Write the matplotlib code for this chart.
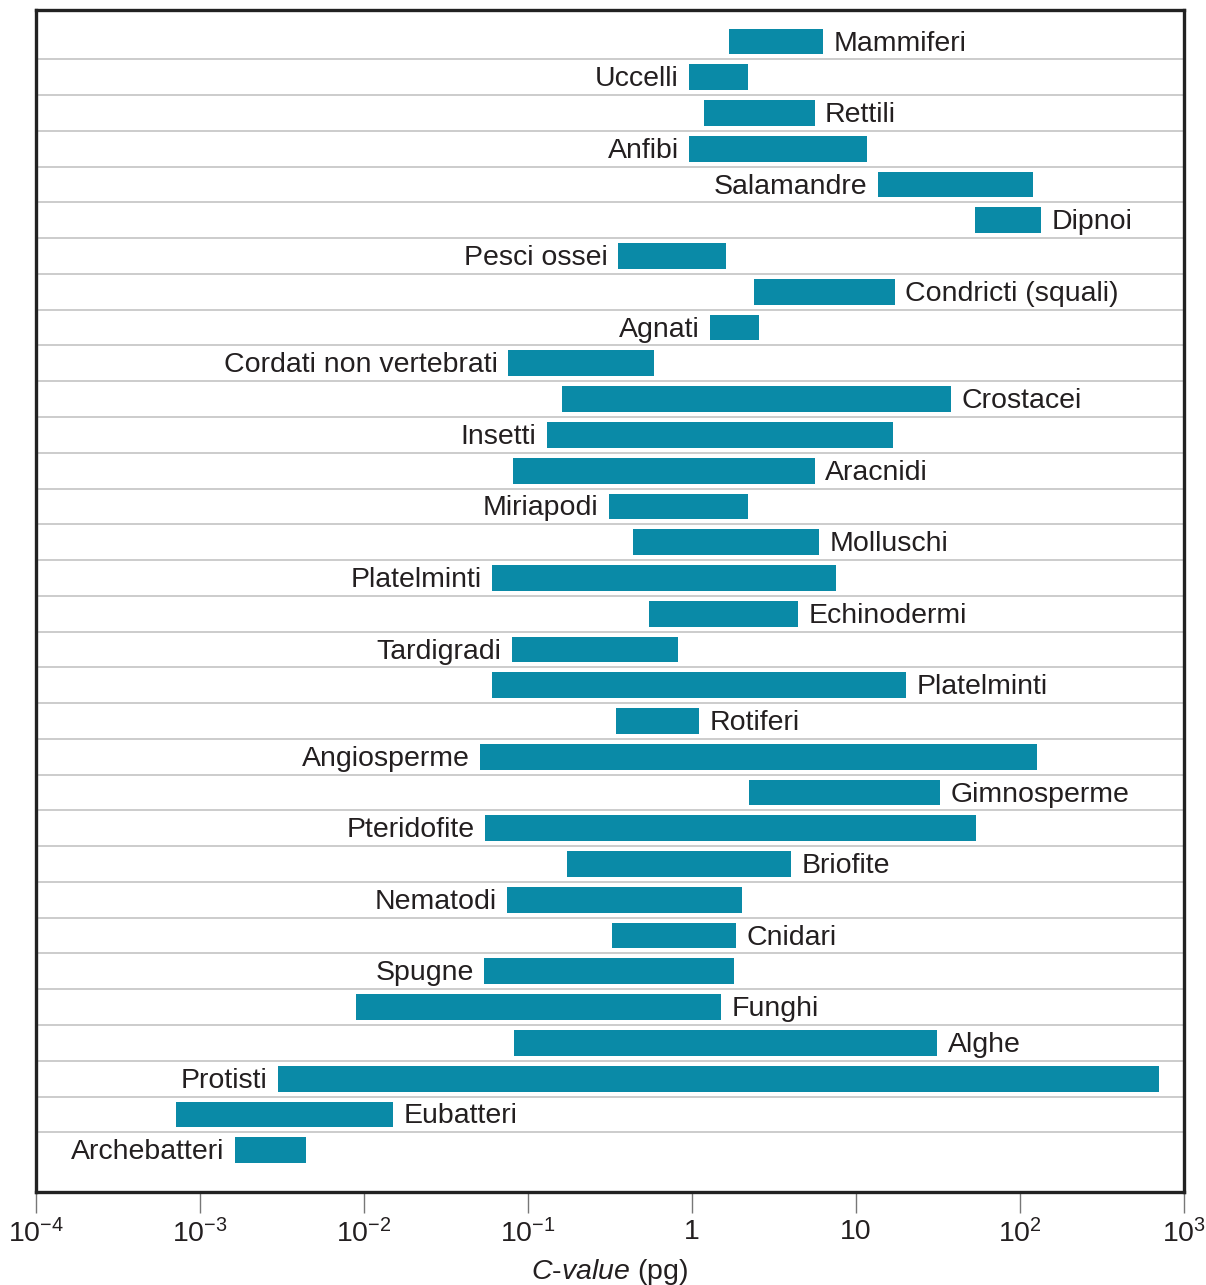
import matplotlib
matplotlib.use("Agg")
import matplotlib.pyplot as plt
import numpy as np

groups = ["Mammiferi", "Uccelli", "Rettili", "Anfibi", "Salamandre", "Dipnoi",
          "Pesci ossei", "Condricti (squali)", "Agnati", "Cordati non vertebrati",
          "Crostacei", "Insetti", "Aracnidi", "Miriapodi", "Molluschi", "Platelminti",
          "Echinodermi", "Tardigradi", "Platelminti", "Rotiferi", "Angiosperme",
          "Gimnosperme", "Pteridofite", "Briofite", "Nematodi", "Cnidari", "Spugne",
          "Funghi", "Alghe", "Protisti", "Eubatteri", "Archebatteri"]
low = [1.68, 0.96, 1.18, 0.96, 13.6, 53, 0.354, 2.39, 1.29, 0.0755,
       0.161, 0.13, 0.081, 0.312, 0.437, 0.0603, 0.547, 0.08, 0.0603, 0.344,
       0.051, 2.23, 0.0547, 0.173, 0.0745, 0.325, 0.054, 0.00894, 0.082, 0.003,
       0.000714, 0.00163]
high = [6.3, 2.2, 5.6, 11.7, 120, 134, 1.61, 17.3, 2.56, 0.586,
        37.9, 16.8, 5.6, 2.2, 5.95, 7.55, 4.43, 0.82, 20.2, 1.1,
        127, 32.5, 54, 4.0, 2.02, 1.85, 1.8, 1.5, 31.2, 704,
        0.01503, 0.00443]
label_side = ["R", "L", "R", "L", "L", "R", "L", "R", "L", "L",
              "R", "L", "R", "L", "R", "L", "R", "L", "R", "R",
              "L", "R", "L", "R", "L", "R", "L", "R", "R", "L",
              "R", "L"]
tick_vals = [1e-4, 1e-3, 1e-2, 1e-1, 1, 10, 1e2, 1e3]
tick_labels = [r"$10^{-4}$", r"$10^{-3}$", r"$10^{-2}$", r"$10^{-1}$", "1", "10",
               r"$10^{2}$", r"$10^{3}$"]

plt.rcParams['font.family'] = ['Liberation Sans', 'DejaVu Sans']
plt.rcParams['mathtext.fontset'] = 'custom'
plt.rcParams['mathtext.rm'] = 'Liberation Sans'
plt.rcParams['mathtext.it'] = 'Liberation Sans:italic'
plt.rcParams['mathtext.default'] = 'regular'

W, H = 1206, 1285
fig = plt.figure(figsize=(W / 100, H / 100), dpi=100)
ax = fig.add_axes([36 / W, (H - 1192) / H, (1184 - 36) / W, (1192 - 10) / H])

color = "#0A8AA7"
n = len(groups)
ypos = np.arange(n)
lo = np.array(low)
hi = np.array(high)
ax.barh(ypos, hi - lo, left=lo, height=0.72, color=color, zorder=3)

for i in range(n - 1):
    ax.axhline(i + 0.5, color="#c8c8c8", lw=1.3, zorder=1)

txt_color = "#231f20"
fs = 20.5
for i, (g, a, b, s) in enumerate(zip(groups, low, high, label_side)):
    if s == "R":
        ax.annotate(g, (b, i), xytext=(7.5, -1.5), textcoords="offset points",
                    ha="left", va="center", fontsize=fs, color=txt_color)
    else:
        ax.annotate(g, (a, i), xytext=(-7.5, -1.5), textcoords="offset points",
                    ha="right", va="center", fontsize=fs, color=txt_color)

ax.set_xscale("log")
ax.set_xlim(1e-4, 1e3)
ax.set_ylim(n - 1 + 1.17, -0.88)
ax.set_yticks([])
ax.set_xticks(tick_vals)
ax.set_xticklabels(tick_labels)
ax.xaxis.set_minor_locator(matplotlib.ticker.NullLocator())
ax.tick_params(axis="x", direction="out", length=15, width=1.0, color="#777777",
               labelsize=fs, labelcolor=txt_color, pad=4.5)
for sp in ax.spines.values():
    sp.set_linewidth(2.4)
    sp.set_color("#222222")

ax.set_xlabel(r"$\mathit{C}$-$\mathit{value}$ (pg)", fontsize=fs, color=txt_color,
              labelpad=6)

fig.savefig("out.png", dpi=100)
